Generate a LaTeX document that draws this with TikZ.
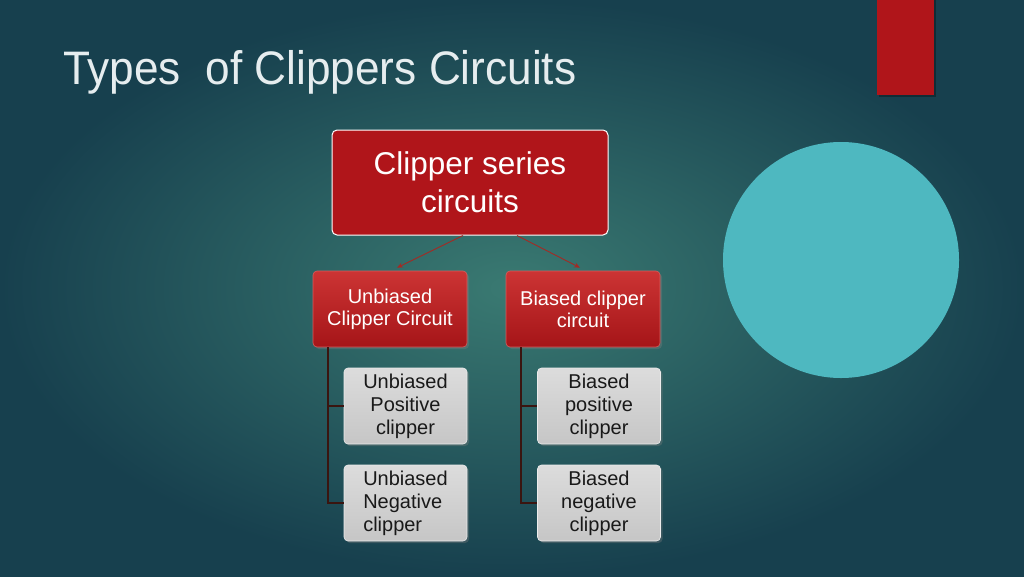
\documentclass[tikz,border=0pt]{standalone}
\usepackage{fontspec}
\setmainfont{Liberation Sans}
\newfontfamily\titlefont[FakeStretch=0.94]{Liberation Sans}
\usetikzlibrary{arrows.meta,shadows,calc}
\definecolor{bgin}{HTML}{3A7A72}
\definecolor{bgout}{HTML}{17404E}
\definecolor{darkred}{HTML}{B0151A}
\definecolor{redtop}{HTML}{CC3434}
\definecolor{redbot}{HTML}{A51518}
\definecolor{cyanc}{HTML}{4EB8C0}
\definecolor{treeline}{HTML}{3A1510}
\definecolor{arrowred}{HTML}{A32A24}
\definecolor{titlec}{HTML}{E6EDEF}
\definecolor{leaftop}{HTML}{DCDCDC}
\definecolor{leafbot}{HTML}{C6C6C6}
\tikzset{
  topbox/.style={draw=white, line width=1pt, fill=darkred, rounded corners=5pt,
    minimum width=276pt, minimum height=105pt, inner sep=0pt, align=center,
    text=white, font=\fontsize{31.5}{38}\selectfont},
  midbox/.style={draw=redtop!80!white, line width=0.6pt, top color=redtop, bottom color=redbot,
    rounded corners=4pt, minimum width=154pt, minimum height=76pt, inner sep=0pt,
    align=center, text=white, font=\fontsize{20}{22}\selectfont,
    drop shadow={shadow xshift=2pt, shadow yshift=-2pt, opacity=0.35}},
  leafbox/.style={draw=white!85!gray, line width=0.6pt, top color=leaftop, bottom color=leafbot,
    rounded corners=4pt, minimum width=123pt, minimum height=76pt, inner sep=0pt,
    text=black!90, font=\fontsize{20}{23}\selectfont,
    drop shadow={shadow xshift=2pt, shadow yshift=-2pt, opacity=0.35}},
  treeconn/.style={draw=treeline, line width=2pt},
  arr/.style={draw=arrowred, line width=0.9pt, -{Stealth[length=6pt,width=5pt]}}
}
\begin{document}
\begin{tikzpicture}[x=1pt,y=-1pt]
\useasboundingbox (0,0) rectangle (1024,576);
\shade[inner color=bgin, outer color=bgout] (0,0) rectangle (1024,576);
% red bar
\fill[black, opacity=0.3] (879,0) rectangle (936,97);
\fill[darkred] (877,0) rectangle (934,95);
% circle
\fill[cyanc] (841,260) circle[radius=118];
% title
\node[anchor=base west, inner sep=0pt, text=titlec, font=\titlefont\fontsize{47}{56}\selectfont] (title) at (63,84) {Types\ \ of Clippers Circuits};
% boxes
\node[topbox] (top) at (470,182.5) {Clipper series\\circuits};
\node[midbox] (ub) at (390,309) {Unbiased\\Clipper Circuit};
\node[midbox] (bc) at (583,309) {Biased clipper\\circuit};
\node[leafbox, align=center] (up) at (405.5,406) {Unbiased\\Positive\\clipper};
\node[leafbox, align=left] (un) at (405.5,503) {Unbiased\\Negative\\clipper};
\node[leafbox, align=center] (bp) at (599,406) {Biased\\positive\\clipper};
\node[leafbox, align=center] (bn) at (599,503) {Biased\\negative\\clipper};
% arrows
\draw[arr] ([xshift=-7pt]top.south) -- ([xshift=7pt,yshift=3pt]ub.north);
\draw[arr] ([xshift=47pt]top.south) -- ([xshift=-3pt,yshift=3pt]bc.north);
% tree connectors
\draw[treeconn] ([xshift=15pt]ub.south west) |- (up.west);
\draw[treeconn] ([xshift=15pt]ub.south west) |- (un.west);
\draw[treeconn] ([xshift=15pt]bc.south west) |- (bp.west);
\draw[treeconn] ([xshift=15pt]bc.south west) |- (bn.west);
\end{tikzpicture}
\end{document}
